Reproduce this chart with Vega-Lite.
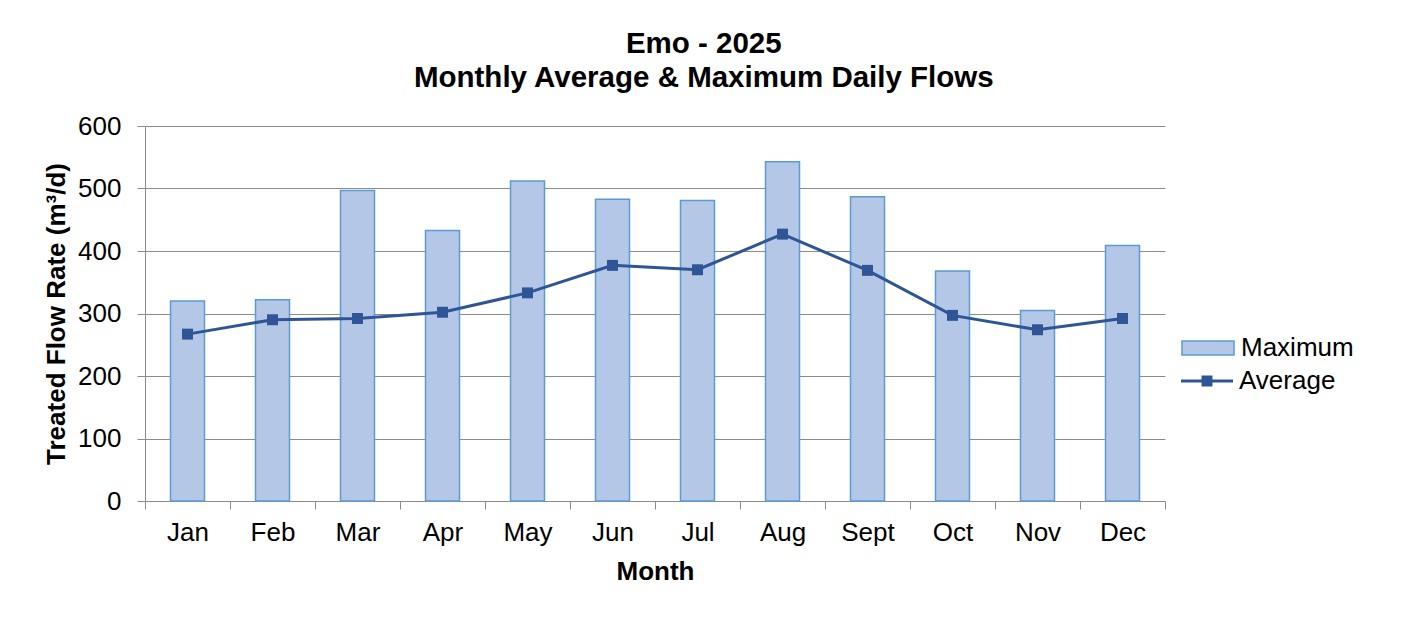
{
  "$schema": "https://vega.github.io/schema/vega-lite/v6.json",
  "width": 1020,
  "height": 375,
  "padding": {"left": 43, "top": 28, "right": 10, "bottom": 10},
  "background": "white",
  "config": {
    "font": "Liberation Sans",
    "view": {"stroke": null}
  },
  "title": {
    "text": ["Emo - 2025", "Monthly Average & Maximum Daily Flows"],
    "fontSize": 29.5,
    "fontWeight": "bold",
    "font": "Liberation Sans",
    "color": "#000000",
    "lineHeight": 34,
    "anchor": "middle",
    "frame": "bounds",
    "dx": 5,
    "offset": 20
  },
  "data": {
    "values": [
      {"month": "Jan", "maximum": 320, "average": 267},
      {"month": "Feb", "maximum": 322, "average": 290},
      {"month": "Mar", "maximum": 497, "average": 292},
      {"month": "Apr", "maximum": 433, "average": 302},
      {"month": "May", "maximum": 512, "average": 333},
      {"month": "Jun", "maximum": 483, "average": 377},
      {"month": "Jul", "maximum": 481, "average": 370},
      {"month": "Aug", "maximum": 543, "average": 427},
      {"month": "Sept", "maximum": 487, "average": 369},
      {"month": "Oct", "maximum": 368, "average": 297},
      {"month": "Nov", "maximum": 305, "average": 274},
      {"month": "Dec", "maximum": 409, "average": 292}
    ]
  },
  "encoding": {
    "x": {
      "field": "month",
      "type": "nominal",
      "sort": null,
      "scale": {"paddingInner": 0, "paddingOuter": 0},
      "axis": {
        "title": "Month",
        "titleFontSize": 26,
        "titleFontWeight": "bold",
        "titleColor": "#000000",
        "titlePadding": 13,
        "labelFontSize": 26,
        "labelColor": "#000000",
        "labelAngle": 0,
        "labelPadding": 10,
        "tickBand": "extent",
        "tickSize": 8,
        "tickColor": "#8C8C8C",
        "domainColor": "#8C8C8C",
        "grid": false
      }
    }
  },
  "layer": [
    {
      "mark": {"type": "bar", "stroke": "#5B9BD5", "strokeWidth": 1.5, "width": {"band": 0.4}},
      "encoding": {
        "y": {
          "field": "maximum",
          "type": "quantitative",
          "scale": {"domain": [0, 600], "nice": false},
          "axis": {
            "title": "Treated Flow Rate (m³/d)",
            "titleFontSize": 26,
            "titleFontWeight": "bold",
            "titleColor": "#000000",
            "titlePadding": 8,
            "labelFontSize": 26,
            "labelColor": "#000000",
            "labelPadding": 16,
            "values": [0, 100, 200, 300, 400, 500, 600],
            "tickSize": 8,
            "tickColor": "#8C8C8C",
            "domainColor": "#8C8C8C",
            "gridColor": "#8C8C8C",
            "grid": true
          }
        },
        "fill": {
          "datum": "Maximum",
          "type": "nominal",
          "scale": {"domain": ["Maximum"], "range": ["#B4C7E7"]},
          "legend": {
            "title": null,
            "orient": "none",
            "legendX": 1036,
            "legendY": 195,
            "labelFontSize": 26,
            "labelColor": "#000000",
            "labelOffset": 6,
            "symbolType": "M-1,-0.27H1V0.27H-1Z",
            "symbolSize": 2704,
            "symbolStrokeColor": "#5B9BD5",
            "symbolStrokeWidth": 1.5
          }
        }
      }
    },
    {
      "mark": {"type": "line", "strokeWidth": 3},
      "encoding": {
        "y": {"field": "average", "type": "quantitative"},
        "stroke": {
          "datum": "Average",
          "type": "nominal",
          "scale": {"domain": ["Average"], "range": ["#2F5597"]},
          "legend": {
            "title": null,
            "orient": "none",
            "legendX": 1036,
            "legendY": 229,
            "labelFontSize": 26,
            "labelColor": "#000000",
            "labelOffset": 6,
            "symbolType": "M-1,-0.06H1V0.06H-1Z M-0.21,-0.21H0.21V0.21H-0.21Z",
            "symbolSize": 2704,
            "symbolStrokeWidth": 0,
            "encode": {"symbols": {"update": {"fill": {"value": "#2F5597"}, "stroke": {"value": "transparent"}}}}
          }
        }
      }
    },
    {
      "mark": {"type": "point", "shape": "square", "filled": true, "size": 120, "color": "#2F5597", "opacity": 1},
      "encoding": {
        "y": {"field": "average", "type": "quantitative"}
      }
    }
  ]
}
